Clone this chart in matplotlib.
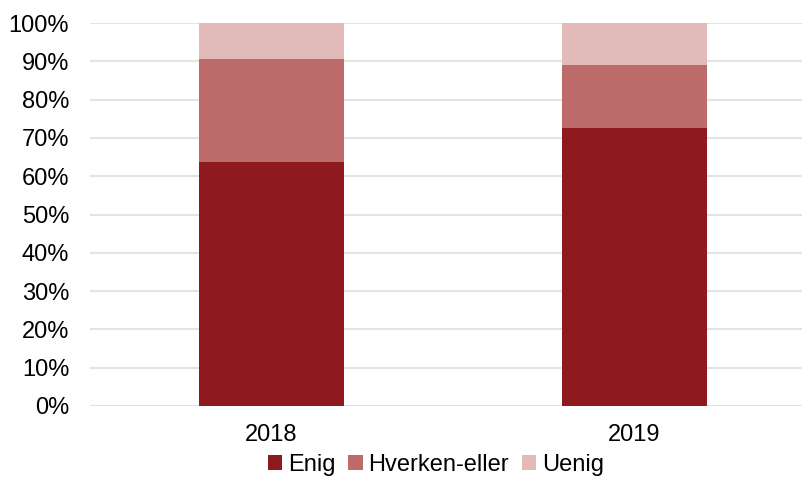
import matplotlib.pyplot as plt
import numpy as np
from matplotlib.ticker import PercentFormatter

plt.rcParams['font.family'] = ['Liberation Sans', 'DejaVu Sans']

years = ['2018', '2019']
enig = [63.7, 72.6]
hverken = [27.0, 16.5]
uenig = [9.3, 10.9]
series = ['Enig', 'Hverken-eller', 'Uenig']
colors = ['#8E1A1F', '#BC6B6A', '#E2BABA']

fig = plt.figure(figsize=(8.03, 4.79), dpi=100)
ax = fig.add_axes([90/803, 1 - 406/479, 726/803, 383/479])

x = np.arange(len(years))
bottom = np.zeros(len(years))
for name, vals, c in zip(series, [enig, hverken, uenig], colors):
    ax.bar(x, vals, width=0.4, bottom=bottom, color=c, label=name, zorder=2)
    bottom += np.array(vals)

ax.set_xlim(-0.5, 1.5)
ax.set_ylim(0, 100)
ax.set_yticks(np.arange(0, 101, 10))
ax.yaxis.set_major_formatter(PercentFormatter(decimals=0))
ax.set_xticks(x)
ax.set_xticklabels(years)
ax.grid(axis='y', color='#E3E3E3', linewidth=1.5, zorder=0)
for s in ax.spines.values():
    s.set_visible(False)
ax.tick_params(length=0, labelsize=17, colors='black')
ax.tick_params(axis='x', pad=13)
ax.tick_params(axis='y', pad=15)

# legend sits at the very bottom edge, as in the original
fig.legend(loc='center', bbox_to_anchor=(436/803, 1 - 465/479), ncol=3, frameon=False,
           fontsize=17, handlelength=0.6, handleheight=0.6, handletextpad=0.25,
           columnspacing=0.55, borderpad=0)

fig.savefig('out.png', dpi=100)
